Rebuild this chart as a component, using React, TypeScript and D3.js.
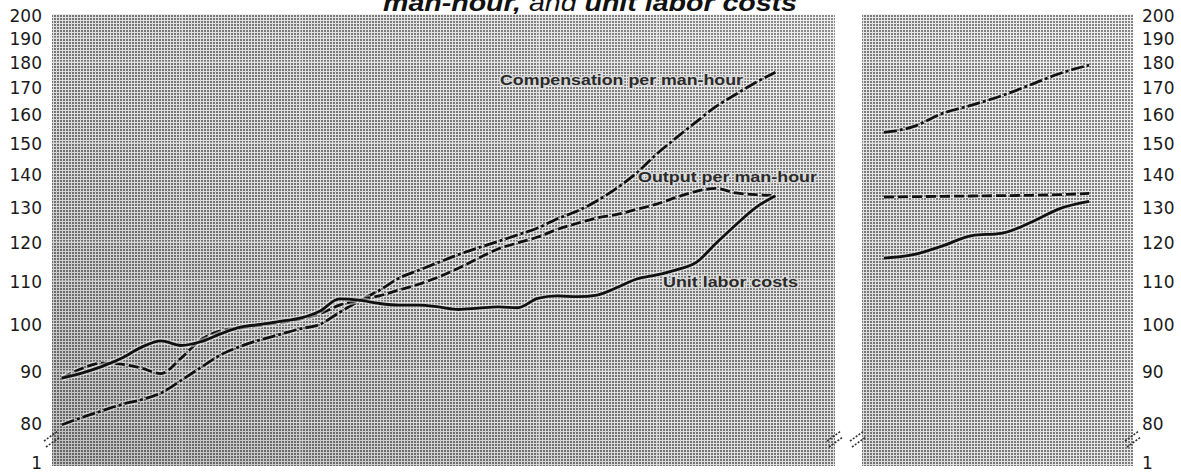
import React from 'react';
import * as d3 from 'd3';

// ---------- data ----------
// left panel: periods in months from start of series (every 2 months)
const leftPeriods = [0, 2, 4, 6, 8, 10, 12, 14, 16, 18, 20, 22, 24, 26, 28, 30, 32, 34, 36, 38, 40, 42, 44, 46, 48, 50, 52, 54, 56, 58, 60, 62, 64, 66, 68, 70, 72];
const compensationLeft = [79.5, 80.8, 82.0, 83.2, 84.1, 85.4, 87.8, 90.4, 93.0, 94.8, 96.2, 97.4, 98.6, 99.6, 102.3, 105.0, 107.5, 110.5, 112.5, 114.5, 116.5, 118.3, 120.0, 121.8, 123.7, 126.3, 128.5, 131.5, 135.3, 140.0, 146.0, 151.5, 157.0, 162.5, 167.0, 171.5, 175.5];
const outputLeft = [88.3, 90.2, 91.3, 91.1, 90.3, 89.2, 92.3, 96.2, 98.2, 98.8, 99.4, 100.0, 100.8, 102.0, 104.0, 105.2, 106.2, 107.6, 109.0, 110.8, 113.0, 115.5, 118.0, 119.6, 121.2, 123.3, 125.0, 126.5, 127.5, 129.0, 130.5, 132.5, 134.3, 135.2, 133.8, 133.3, 133.0];
const unitLaborLeft = [88.3, 89.3, 90.6, 92.3, 94.6, 96.0, 95.0, 95.8, 97.5, 99.0, 99.6, 100.3, 101.0, 102.6, 105.5, 105.2, 104.4, 104.0, 104.0, 103.6, 103.0, 103.3, 103.6, 103.4, 105.6, 106.2, 106.0, 106.4, 108.2, 110.3, 111.3, 112.6, 114.5, 119.5, 124.6, 129.5, 133.0];

// right panel: monthly
const rightPeriods = [0, 1, 2, 3, 4, 5, 6, 7];
const compensationRight = [153.3, 155.3, 160.0, 163.0, 166.4, 170.6, 175.0, 178.3];
const outputRight = [132.6, 132.7, 132.8, 132.9, 133.0, 133.1, 133.3, 133.7];
const unitLaborRight = [115.6, 116.5, 118.8, 121.6, 122.2, 125.2, 129.2, 131.3];

const yTicks = [80, 90, 100, 110, 120, 130, 140, 150, 160, 170, 180, 190, 200];
const titleParts = ['man-hour,', ' and ', 'unit labor costs'];
const seriesLabels = ['Compensation per man-hour', 'Output per man-hour', 'Unit labor costs'];

// ---------- layout ----------
const W = 1181;
const H = 476;
const TOP = 14;
const BOTTOM = 466;
const LEFT = { x0: 52, x1: 835 };
const RIGHT = { x0: 862, x1: 1133 };

const y = d3.scaleLog().domain([80, 200]).range([422, 14]);
const xL = d3.scaleLinear().domain([-1, 78]).range([LEFT.x0, LEFT.x1]);
const xR = d3.scaleLinear().domain([-0.75, 8.5]).range([RIGHT.x0, RIGHT.x1]);

type Pt = { m: number; v: number };
const zip = (ms: number[], vs: number[]): Pt[] => ms.map((m, i) => ({ m, v: vs[i] }));

const styles = {
  comp: { dash: '13 3 3 3' },
  out: { dash: '10 4' },
  ulc: { dash: undefined as string | undefined },
};

function Series({ data, x, dash }: { data: Pt[]; x: d3.ScaleLinear<number, number>; dash?: string }) {
  const line = d3
    .line<Pt>()
    .x((d) => x(d.m))
    .y((d) => y(d.v))
    .curve(d3.curveMonotoneX);
  const p = line(data) || '';
  return (
    <g>
      <path d={p} fill="none" stroke="#f0f0f0" strokeOpacity={0.5} strokeWidth={6} strokeDasharray={dash} strokeLinecap="butt" />
      <path d={p} fill="none" stroke="#101010" strokeWidth={2.8} strokeDasharray={dash} strokeLinecap="butt" strokeLinejoin="round" />
    </g>
  );
}

function Panel({ x0, x1, id, vGrid }: { x0: number; x1: number; id: string; vGrid: number[] }) {
  return (
    <g>
      <rect x={x0} y={TOP} width={x1 - x0} height={BOTTOM - TOP} fill="url(#halftone)" />
      <rect x={x0} y={TOP} width={x1 - x0} height={BOTTOM - TOP} fill={`url(#shade-${id})`} />
      {yTicks.map((t) => (
        <line key={t} x1={x0} x2={x1} y1={Math.round(y(t)) + 0.5} y2={Math.round(y(t)) + 0.5} stroke="#ffffff" strokeOpacity={0.28} strokeWidth={1} />
      ))}
      {vGrid.map((gx, i) => (
        <line key={i} x1={Math.round(gx) + 0.5} x2={Math.round(gx) + 0.5} y1={TOP} y2={BOTTOM} stroke="#ffffff" strokeOpacity={0.28} strokeWidth={1} />
      ))}
    </g>
  );
}

function BreakMark({ cx, cy }: { cx: number; cy: number }) {
  return (
    <g stroke="#333" strokeWidth={1.6} strokeDasharray="2 1.5">
      <line x1={cx - 8} y1={cy + 3} x2={cx + 6} y2={cy - 7} />
      <line x1={cx - 6} y1={cy + 9} x2={cx + 8} y2={cy - 1} />
    </g>
  );
}

export default function App() {
  const leftGrid = [12, 24, 36, 48, 60, 72].map((m) => xL(m));
  const rd = xR.domain();
  const rightGrid = [1, 2].map((k) => xR(rd[0] + (k * (rd[1] - rd[0])) / 3));
  const breakY = y(80) + 16;
  const labelFont = "'DejaVu Sans', sans-serif";

  return (
    <svg width={W} height={H} style={{ position: 'absolute', left: 0, top: 0, background: '#fff' }}>
      <defs>
        <pattern id="halftone" x={0} y={0} width={3} height={3} patternUnits="userSpaceOnUse">
          <rect width={3} height={3} fill="#eeeeee" />
          <rect width={2} height={2} fill="#7c7c7c" />
        </pattern>
        <linearGradient id="shade-L" x1="0" y1="1" x2="1" y2="0">
          <stop offset="0" stopColor="#000" stopOpacity={0.2} />
          <stop offset="0.45" stopColor="#000" stopOpacity={0.06} />
          <stop offset="1" stopColor="#fff" stopOpacity={0.12} />
        </linearGradient>
        <linearGradient id="shade-R" x1="0" y1="1" x2="1" y2="0">
          <stop offset="0" stopColor="#000" stopOpacity={0.08} />
          <stop offset="1" stopColor="#fff" stopOpacity={0.06} />
        </linearGradient>
      </defs>

      {/* title (cut off at top, as in the source) */}
      <text x={383} y={11} fontFamily="'Liberation Sans', Arial, sans-serif" fontStyle="italic" fontSize={24} fill="#111" textLength={414} lengthAdjust="spacingAndGlyphs">
        <tspan fontWeight="bold">{titleParts[0]}</tspan>
        <tspan fontWeight="normal">{titleParts[1]}</tspan>
        <tspan fontWeight="bold">{titleParts[2]}</tspan>
      </text>

      <Panel x0={LEFT.x0} x1={LEFT.x1} id="L" vGrid={leftGrid} />
      <Panel x0={RIGHT.x0} x1={RIGHT.x1} id="R" vGrid={rightGrid} />

      {/* y-axis labels */}
      {yTicks.map((t) => (
        <g key={t} fontFamily={labelFont} fontSize={17} fill="#1a1a1a">
          <text x={42} y={y(t) + 2} textAnchor="end" dominantBaseline="central">{t}</text>
          <text x={1142} y={y(t) + 2} textAnchor="start" dominantBaseline="central">{t}</text>
        </g>
      ))}
      <text x={42} y={463} textAnchor="end" dominantBaseline="central" fontFamily={labelFont} fontSize={17} fill="#1a1a1a">1</text>
      <text x={1142} y={463} textAnchor="start" dominantBaseline="central" fontFamily={labelFont} fontSize={17} fill="#1a1a1a">1</text>

      {/* break marks */}
      <BreakMark cx={LEFT.x0} cy={breakY} />
      <BreakMark cx={LEFT.x1} cy={breakY} />
      <BreakMark cx={RIGHT.x0 - 4} cy={breakY} />
      <BreakMark cx={RIGHT.x1} cy={breakY} />

      {/* series */}
      <Series data={zip(leftPeriods, compensationLeft)} x={xL} dash={styles.comp.dash} />
      <Series data={zip(leftPeriods, outputLeft)} x={xL} dash={styles.out.dash} />
      <Series data={zip(leftPeriods, unitLaborLeft)} x={xL} dash={styles.ulc.dash} />
      <Series data={zip(rightPeriods, compensationRight)} x={xR} dash={styles.comp.dash} />
      <Series data={zip(rightPeriods, outputRight)} x={xR} dash={styles.out.dash} />
      <Series data={zip(rightPeriods, unitLaborRight)} x={xR} dash={styles.ulc.dash} />

      {/* series labels */}
      <g fontFamily="'Liberation Sans', Arial, sans-serif" fontWeight="bold" fontSize={14} fill="#2a2a2a" stroke="#d8d8d8" strokeWidth={3} paintOrder="stroke" dominantBaseline="central">
        <text x={500} y={80} textLength={243} lengthAdjust="spacingAndGlyphs">{seriesLabels[0]}</text>
        <text x={638} y={177} textLength={179} lengthAdjust="spacingAndGlyphs">{seriesLabels[1]}</text>
        <text x={663} y={282} textLength={135} lengthAdjust="spacingAndGlyphs">{seriesLabels[2]}</text>
      </g>
    </svg>
  );
}
